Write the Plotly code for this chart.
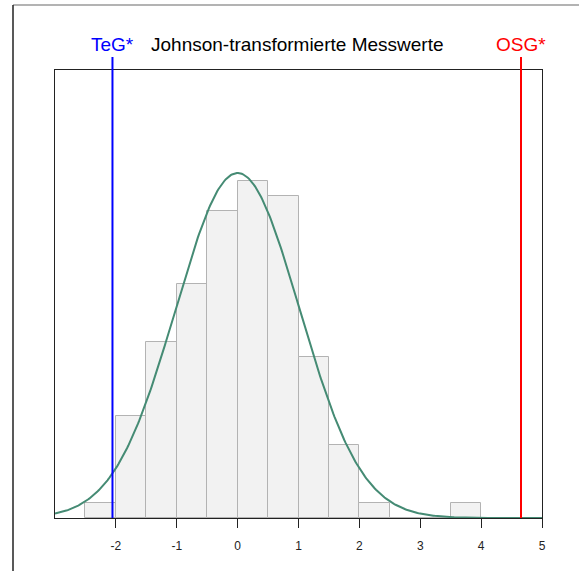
import numpy as np
import plotly.graph_objects as go

# Histogram of Johnson-transformed measurements (bin width 0.5)
bin_left = [-2.5, -2.0, -1.5, -1.0, -0.5, 0.0, 0.5, 1.0, 1.5, 2.0, 2.5, 3.0, 3.5]
counts = [1, 7, 12, 16, 21, 23, 22, 11, 5, 1, 0, 0, 1]
bin_width = 0.5

# Fitted normal distribution
fit_mean = 0.0
fit_sd = 1.016

# Specification limits (transformed)
teg = -2.056
osg = 4.655

x_ticks = [-2, -1, 0, 1, 2, 3, 4, 5]
title_text = "Johnson-transformierte Messwerte"

n_total = sum(counts)
centers = [b + bin_width / 2 for b in bin_left]

xs = np.linspace(-3, 5, 400)
ys = n_total * bin_width * np.exp(-0.5 * ((xs - fit_mean) / fit_sd) ** 2) / (fit_sd * np.sqrt(2 * np.pi))

fig = go.Figure()
fig.add_trace(go.Bar(
    x=centers, y=counts, width=bin_width,
    marker=dict(color="#F2F2F2", line=dict(color="#B3B3B3", width=1)),
    hoverinfo="skip",
))
fig.add_trace(go.Scatter(
    x=xs, y=ys, mode="lines",
    line=dict(color="#458B74", width=2),
    hoverinfo="skip", cliponaxis=False,
))

# Plot area geometry in pixels
W, H = 579, 571
L, R, T, B = 55, 542, 70, 517.6


def px(xp):
    return (xp - L) / (R - L)


def py(yp):
    return (B - yp) / (B - T)


shapes = [
    dict(type="line", xref="x", yref="paper", x0=teg, x1=teg, y0=0, y1=py(57),
         line=dict(color="#0000FF", width=2)),
    dict(type="line", xref="x", yref="paper", x0=osg, x1=osg, y0=0, y1=py(57),
         line=dict(color="#FF0000", width=2)),
    # outer frame
    dict(type="line", xref="paper", yref="paper", x0=px(13), x1=px(W + 5), y0=py(5), y1=py(5),
         line=dict(color="#9A9A9A", width=1.5)),
    dict(type="line", xref="paper", yref="paper", x0=px(13), x1=px(13), y0=py(5), y1=py(H + 5),
         line=dict(color="#222222", width=1.5)),
]

annotations = [
    dict(x=teg, xref="x", y=py(45), yref="paper", text="TeG*", showarrow=False,
         font=dict(color="#0000FF", size=19), xanchor="center", yanchor="middle"),
    dict(x=osg, xref="x", y=py(45), yref="paper", text="OSG*", showarrow=False,
         font=dict(color="#FF0000", size=19), xanchor="center", yanchor="middle"),
    dict(x=px(297), xref="paper", y=py(45), yref="paper", text=title_text, showarrow=False,
         font=dict(color="#000000", size=19), xanchor="center", yanchor="middle"),
]

fig.update_layout(
    width=W, height=H,
    margin=dict(l=L, r=W - R, t=T, b=H - B),
    paper_bgcolor="white", plot_bgcolor="white",
    showlegend=False, bargap=0,
    font=dict(family="Liberation Sans, Arial, sans-serif", color="#000000"),
    shapes=shapes, annotations=annotations,
    xaxis=dict(range=[-3, 5], tickvals=x_ticks, ticktext=[str(t) for t in x_ticks],
               showgrid=False, zeroline=False, showline=True, mirror=True,
               linecolor="#222222", linewidth=1, ticks="outside", ticklen=9,
               ticklabelstandoff=8,
               tickcolor="#222222", tickfont=dict(size=12, color="#222222")),
    yaxis=dict(range=[0, (B - T) / 14.63], showgrid=False, zeroline=False,
               showline=True, mirror=True, linecolor="#222222", linewidth=1,
               showticklabels=False, ticks=""),
)

fig.write_html("out.html")
